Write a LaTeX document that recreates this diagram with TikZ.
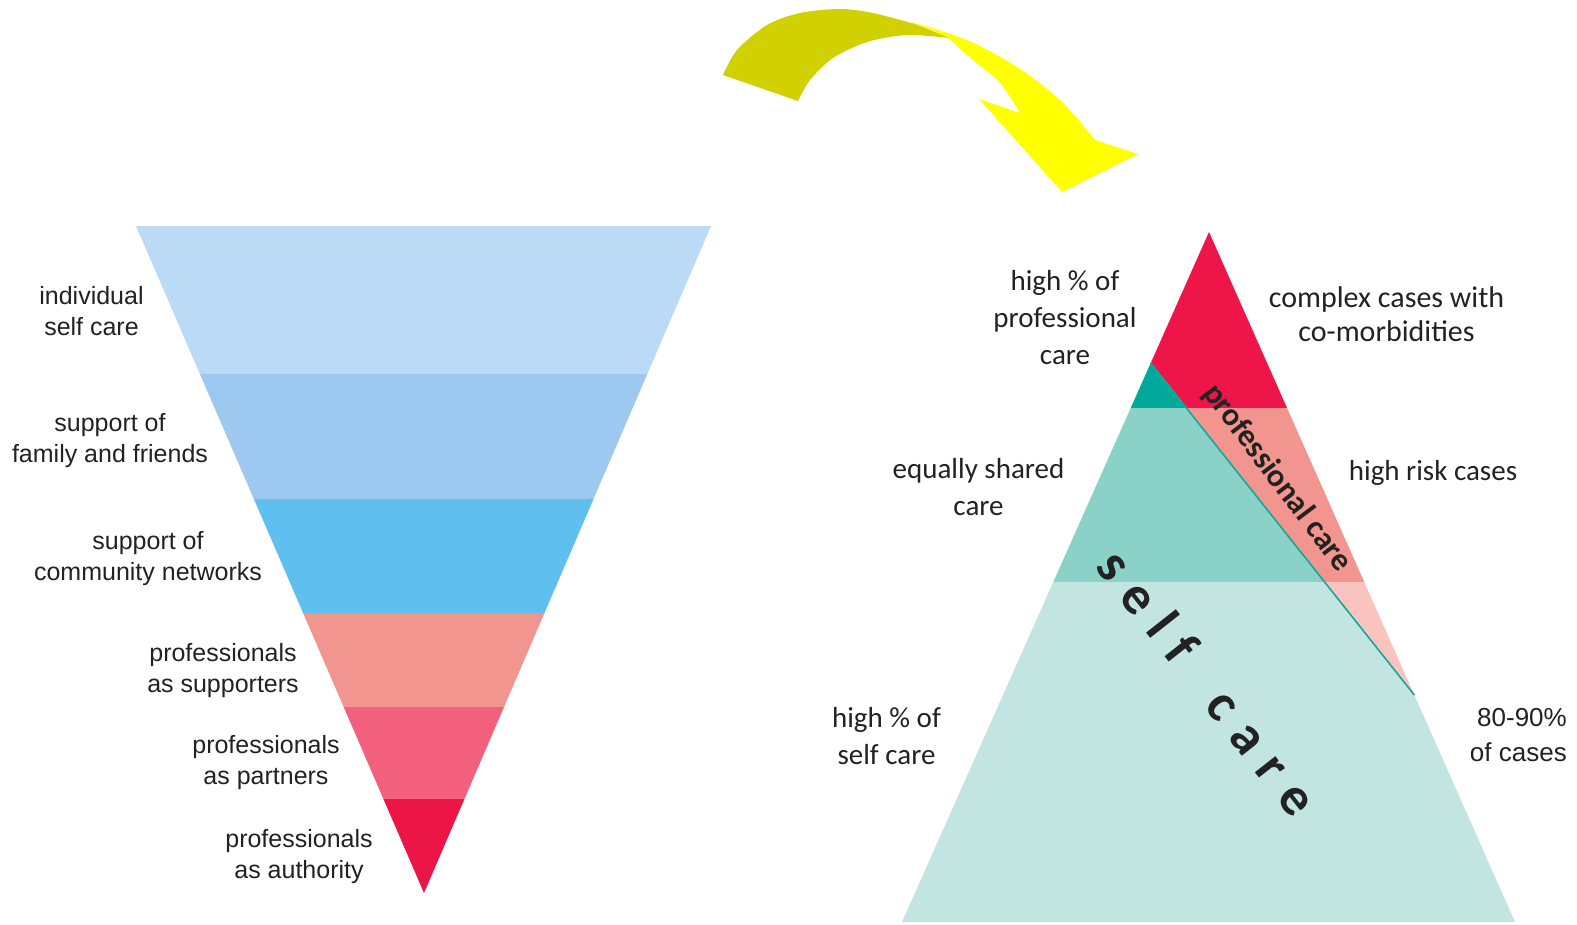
\documentclass[tikz,border=0pt]{standalone}
\usepackage{fontspec}
\setmainfont{Liberation Sans}
\newfontfamily\carl{Carlito}
\usetikzlibrary{calc}
\definecolor{bA}{HTML}{BBDAF5}
\definecolor{bB}{HTML}{9DC9F0}
\definecolor{bC}{HTML}{5FBFEE}
\definecolor{bD}{HTML}{F2958E}
\definecolor{bE}{HTML}{F2607D}
\definecolor{bF}{HTML}{EC1646}
\definecolor{tDark}{HTML}{00A99A}
\definecolor{tMid}{HTML}{8AD1C8}
\definecolor{tLight}{HTML}{C3E5E1}
\definecolor{rRed}{HTML}{EE1549}
\definecolor{rSalmon}{HTML}{F2958E}
\definecolor{rPale}{HTML}{F9C4BE}
\definecolor{arrDark}{HTML}{D1D000}
\definecolor{arrBright}{HTML}{FFFF00}
\definecolor{txt}{HTML}{222222}
\definecolor{lineTeal}{HTML}{13A89C}
\begin{document}
\begin{tikzpicture}[x=1pt,y=-1pt,
  lbl/.style={font=\fontsize{25}{31}\selectfont, align=center, text=txt, inner sep=0pt},
  rlbl/.style={font=\carl\fontsize{29}{37}\selectfont, align=center, text=txt, inner sep=0pt},
  plbl/.style={font=\fontsize{26}{35}\selectfont, align=right, text=txt, inner sep=0pt}]
\useasboundingbox (0,0) rectangle (1577,924);
\fill[white] (0,0) rectangle (1577,924);

% ---------- left inverted triangle ----------
\coordinate (LT1) at (136,226);
\coordinate (LT2) at (711,226);
\coordinate (LA) at (424,893);
\begin{scope}
  \clip (LT1) -- (LT2) -- (LA) -- cycle;
  \fill[bA] (100,220) rectangle (750,374);
  \fill[bB] (100,374) rectangle (750,499);
  \fill[bC] (100,499) rectangle (750,613);
  \fill[bD] (100,613) rectangle (750,707);
  \fill[bE] (100,707) rectangle (750,799);
  \fill[bF] (100,799) rectangle (750,900);
\end{scope}

\node[lbl] (l1) at (91.5,311) {individual\\self care};
\node[lbl] (l2) at (110,441) {support of\\family and friends};
\node[lbl] (l3) at (148,559) {support of\\community networks};
\node[lbl] (l4) at (223,671) {professionals\\as supporters};
\node[lbl] (l5) at (266,763) {professionals\\as partners};
\node[lbl] (l6) at (299,857) {professionals\\as authority};

% ---------- right triangle ----------
\coordinate (RP) at (1209,232);
\coordinate (RBL) at (902,922);
\coordinate (RBR) at (1515,922);
\coordinate (D1) at ($(RP)!0.1899!(RBL)$);
\coordinate (D2) at ($(RP)!0.671!(RBR)$);
\coordinate (E1) at ($(D1)!-1!(D2)$);
\coordinate (E2) at ($(D1)!2!(D2)$);
\begin{scope}
  \clip (RP) -- (RBR) -- (RBL) -- cycle;
  \begin{scope}
    \clip (E1) -- (800,0) -- (800,1100) -- (E2) -- cycle;
    \fill[tDark] (800,0) rectangle (1700,408);
    \fill[tMid] (800,408) rectangle (1700,582);
    \fill[tLight] (800,582) rectangle (1700,1100);
  \end{scope}
  \begin{scope}
    \clip (E1) -- (1800,0) -- (1800,1100) -- (E2) -- cycle;
    \fill[rRed] (800,0) rectangle (1700,408);
    \fill[rSalmon] (800,408) rectangle (1700,582);
    \fill[rPale] (800,582) rectangle (1700,1100);
  \end{scope}
\end{scope}
\draw[lineTeal, line width=1.6pt] (D1) -- (D2);

\node[font=\carl\bfseries\fontsize{32}{34}\selectfont, text=txt, rotate=-53, inner sep=0pt] (pc) at (1277,478) {professional care};
\node[font=\carl\bfseries\fontsize{54}{60}\selectfont, text=txt, rotate=-51.8, inner sep=0pt] (sc) at (1208,682)
  {s\kern16pt e\kern16pt l\kern16pt f\hspace{50pt}c\kern16pt a\kern16pt r\kern16pt e};

\node[rlbl] (r1) at (1065,318) {high \% of\\professional\\care};
\node[rlbl, font=\carl\fontsize{30}{34}\selectfont] (r2) at (1386.5,314) {complex cases with\\co-morbidities};
\node[rlbl] (r3) at (978.5,487) {equally shared\\care};
\node[rlbl] (r4) at (1433,473) {high risk cases};
\node[rlbl] (r5) at (886.5,736) {high \% of\\self care};
\node[plbl, anchor=east] (r6) at (1567,735) {80-90\%\\of cases};

% ---------- curved arrow ----------
\fill[arrDark] plot[smooth] coordinates {(723,75) (737,50) (767,25) (800,13) (840,9) (873,13) (915,24)}
  -- (950,38)
  -- plot[smooth] coordinates {(950,38) (907,35) (867,42) (833,58) (810,80) (798,101)} -- cycle;
\fill[arrBright] plot[smooth] coordinates {(912,22) (967,40) (1017,67) (1060,100) (1095,140)}
  -- (1138,154) -- (1062,192) -- (979,99) -- (1020,113)
  -- plot[smooth] coordinates {(1020,113) (1000,83) (973,60) (947,37)} -- cycle;
\end{tikzpicture}
\end{document}
